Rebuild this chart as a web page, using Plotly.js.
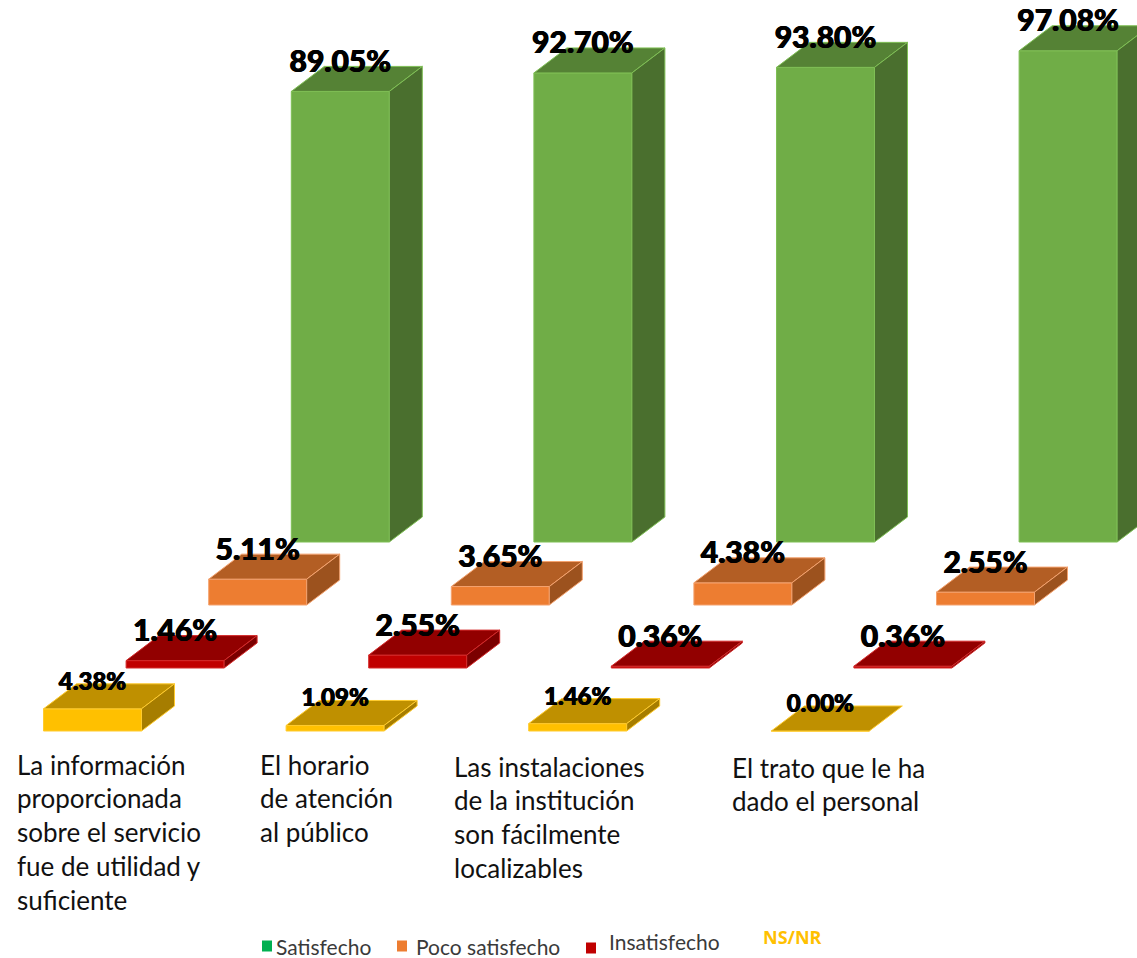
<!DOCTYPE html>
<html>
<head>
<meta charset="utf-8">
<script src="https://cdn.plot.ly/plotly-3.0.1.min.js"></script>
<style>html,body{margin:0;padding:0;background:#fff}#chart{width:1137px;height:958px}</style>
</head>
<body>
<div id="chart"></div>
<script>
// Survey results
const categoryLines = [
  ["La información", "proporcionada", "sobre el servicio", "fue de utilidad y", "suficiente"],
  ["El horario", "de atención", "al público"],
  ["Las instalaciones", "de la institución", "son fácilmente", "localizables"],
  ["El trato que le ha", "dado el personal"]
];
const satisfecho = [89.05, 92.70, 93.80, 97.08];
const pocoSatisfecho = [5.11, 3.65, 4.38, 2.55];
const insatisfecho = [1.46, 2.55, 0.36, 0.36];
const nsNr = [4.38, 1.09, 1.46, 0.00];

// Pseudo-3D geometry, expressed in axis units
const W = 1137, H = 958;
const PX_X = 242.6, PX_Y = 5.06;            // pixels per category step / per percent
const X0 = 92.5, Y0 = 542;                  // pixel of category 0 (front row) and of the back baseline
const BAR_W = 98 / PX_X;
const DEPTH_X = 33 / PX_X, DEPTH_Y = 25 / PX_Y;
const ROW_X = 82.6 / PX_X, ROW_Y = 63 / PX_Y;

const series = [
  {vals: satisfecho,     row: 3, front: "#70AD47", top: "#558235", side: "#4A6F2E", edge: "#7FBF55", size: 30, lift: 27},
  {vals: pocoSatisfecho, row: 2, front: "#ED7D31", top: "#B35E24", side: "#9C521E", edge: "#F4A26E", size: 30, lift: 27},
  {vals: insatisfecho,   row: 1, front: "#C00000", top: "#920000", side: "#7B0000", edge: "#D42A2A", size: 30, lift: 27},
  {vals: nsNr,           row: 0, front: "#FFC000", top: "#BF9000", side: "#A67D00", edge: "#FFCB2E", size: 24, lift: 25}
];

const xOf = (i, row) => i + row * ROW_X;
const baseOf = row => (row - 3) * ROW_Y;

const traces = [];
series.forEach(s => {
  const xs = s.vals.map((_, i) => xOf(i, s.row));
  const base = baseOf(s.row);
  traces.push({
    type: "bar", x: xs, y: s.vals, base: base, width: BAR_W,
    marker: {color: s.front, line: {color: s.edge, width: 1}},
    hoverinfo: "skip", showlegend: false
  });
  s.vals.forEach((v, i) => {
    const l = xs[i] - BAR_W / 2, r = xs[i] + BAR_W / 2, t = base + v;
    traces.push({
      type: "scatter", mode: "lines", fill: "toself", fillcolor: s.top,
      x: [l, r, r + DEPTH_X, l + DEPTH_X, l],
      y: [t, t, t + DEPTH_Y, t + DEPTH_Y, t],
      line: {color: s.edge, width: 1}, hoverinfo: "skip", showlegend: false
    });
    if (v > 0) traces.push({
      type: "scatter", mode: "lines", fill: "toself", fillcolor: s.side,
      x: [r, r + DEPTH_X, r + DEPTH_X, r, r],
      y: [base, base + DEPTH_Y, t + DEPTH_Y, t, base],
      line: {color: s.edge, width: 1}, hoverinfo: "skip", showlegend: false
    });
  });
});

// Value labels sit above the front face of each bar
series.forEach(s => {
  traces.push({
    type: "scatter", mode: "text", showlegend: false, hoverinfo: "skip",
    x: s.vals.map((_, i) => xOf(i, s.row)),
    y: s.vals.map(v => baseOf(s.row) + v + s.lift / PX_Y),
    text: s.vals.map(v => v.toFixed(2) + "%"),
    textposition: "middle center",
    textfont: {family: "Lato", size: s.size, color: "#000", weight: 900, shadow: "0.5px 0 0 #000, -0.5px 0 0 #000"}
  });
});

// Category captions, one annotation per line
const captionX = [17, 260, 454, 732];
const captionY = [764.5, 764.5, 766.5, 767.5];
const annotations = [];
categoryLines.forEach((lines, c) => lines.forEach((txt, n) => {
  annotations.push({
    xref: "paper", yref: "paper", x: captionX[c] / W, y: 1 - (captionY[c] + n * 33.8) / H,
    xanchor: "left", yanchor: "middle", showarrow: false, text: txt, xshift: -2,
    font: {family: "Lato", size: 26, color: "#111"}
  });
}));

// Hand-placed key under the plot
const keyLabels = [
  {text: "Satisfecho", color: "#00B050", kx: 262, ky: 946, tx: 276, ty: 946},
  {text: "Poco satisfecho", color: "#ED7D31", kx: 397, ky: 946, tx: 416, ty: 946},
  {text: "Insatisfecho", color: "#C00000", kx: 586, ky: 948, tx: 609, ty: 941}
];
const shapes = keyLabels.map(k => ({
  type: "rect", xref: "paper", yref: "paper", line: {width: 0}, fillcolor: k.color,
  x0: k.kx / W, x1: (k.kx + 10) / W, y0: 1 - (k.ky + 5.5) / H, y1: 1 - (k.ky - 5.5) / H
}));
keyLabels.forEach(k => annotations.push({
  xref: "paper", yref: "paper", x: k.tx / W, y: 1 - k.ty / H, xanchor: "left", yanchor: "middle",
  showarrow: false, text: k.text, xshift: -2, font: {family: "Lato", size: 21, color: "#3a3a3a"}
}));
annotations.push({
  xref: "paper", yref: "paper", x: 763 / W, y: 1 - 937 / H, xanchor: "left", yanchor: "middle",
  showarrow: false, text: "<b>NS/NR</b>", xshift: -2, font: {family: "Open Sans", size: 18, color: "#FFC000"}
});

const layout = {
  width: W, height: H, margin: {l: 0, r: 0, t: 0, b: 0},
  paper_bgcolor: "#fff", plot_bgcolor: "#fff", barmode: "overlay", showlegend: false,
  xaxis: {range: [-X0 / PX_X, (W - X0) / PX_X], visible: false, fixedrange: true},
  yaxis: {range: [-(H - Y0) / PX_Y, Y0 / PX_Y], visible: false, fixedrange: true},
  annotations: annotations, shapes: shapes
};
Plotly.newPlot("chart", traces, layout, {displayModeBar: false, staticPlot: true});
</script>
</body>
</html>
